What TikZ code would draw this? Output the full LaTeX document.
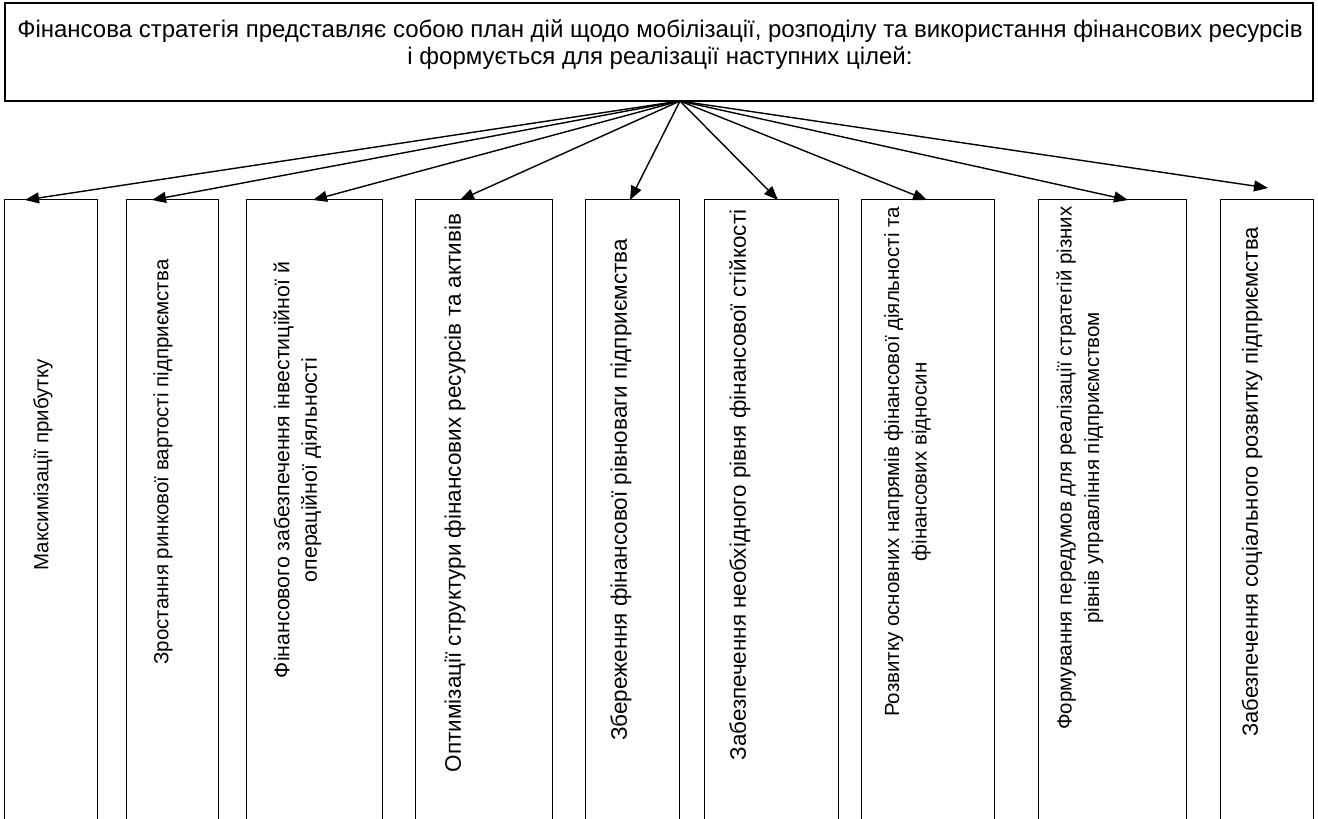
\documentclass[tikz,border=0pt]{standalone}
\usepackage{fontspec}
\setmainfont{Liberation Sans}
\usetikzlibrary{arrows.meta}
\begin{document}
\begin{tikzpicture}[x=1pt,y=-1pt,
  topbox/.style={draw, line width=1.8pt, minimum width=1308pt, minimum height=98pt, inner sep=0pt},
  colbox/.style={draw=none, minimum height=630pt, inner sep=0pt},
  coltext/.style={rotate=90, align=center, inner sep=0pt, font=\fontsize{#1}{27.5}\selectfont},
  coltext/.default=20.5,
  conn/.style={line width=1.4pt, -{Triangle[length=14pt,width=11pt]}},
  side/.style={line width=1.2pt}]
\useasboundingbox (0,0) rectangle (1318,819);
\fill[white] (0,0) rectangle (1318,819);
% top box
\node[topbox] (top) at (659,52) {};
\node[align=center, inner sep=0pt, font=\fontsize{24}{27}\selectfont] (toptext) at (660,45)
  {Фінансова стратегія представляє собою план дій щодо мобілізації, розподілу та використання фінансових ресурсів\\
   і формується для реалізації наступних цілей:};
\coordinate (src) at (680,101);
% columns: x-left, x-right
\foreach \n/\l/\r in {1/5/97, 2/127/218, 3/247/382, 4/416/552, 5/586/679, 6/705/838, 7/862/994, 8/1039/1186, 9/1221/1313}{
  \node[colbox, minimum width={\r-\l}] (b\n) at ({(\l+\r)/2},515) {};
  \draw[side] (b\n.south west) |- (b\n.north east) -- (b\n.south east);
}
% texts
\node[coltext] (t1) at (43,465) {Максимізації прибутку};
\node[coltext] (t2) at (163,462) {Зростання ринкової вартості підприємства};
\node[coltext=21.3] (t3) at (297.5,470) {Фінансового забезпечення інвестиційної й\\операційної діяльності};
\node[coltext=22.5] (t4) at (455,493) {Оптимізації структури фінансових ресурсів та активів};
\node[coltext=22.5] (t5) at (621,490) {Збереження фінансової рівноваги підприємства};
\node[coltext=22.4] (t6) at (740,485) {Забезпечення необхідного рівня фінансової стійкості};
\node[coltext] (t7) at (907.5,462) {Розвитку основних напрямів фінансової діяльності та\\фінансових відносин};
\node[coltext] (t8) at (1080,468) {Формування передумов для реалізації стратегій різних\\рівнів управління підприємством};
\node[coltext=22] (t9) at (1252,482) {Забезпечення соціального розвитку підприємства};
% arrow ends
\coordinate (e1) at (25,200);
\coordinate (e2) at (152,200);
\coordinate (e3) at (313,200);
\coordinate (e4) at (460,200);
\coordinate (e5) at (630,200);
\coordinate (e6) at (778,200);
\coordinate (e7) at (927,200);
\coordinate (e8) at (1128,200);
\coordinate (e9) at (1268,188);
\foreach \n in {1,...,9}{
  \draw[conn] (src) -- (e\n);
}
\end{tikzpicture}
\end{document}
